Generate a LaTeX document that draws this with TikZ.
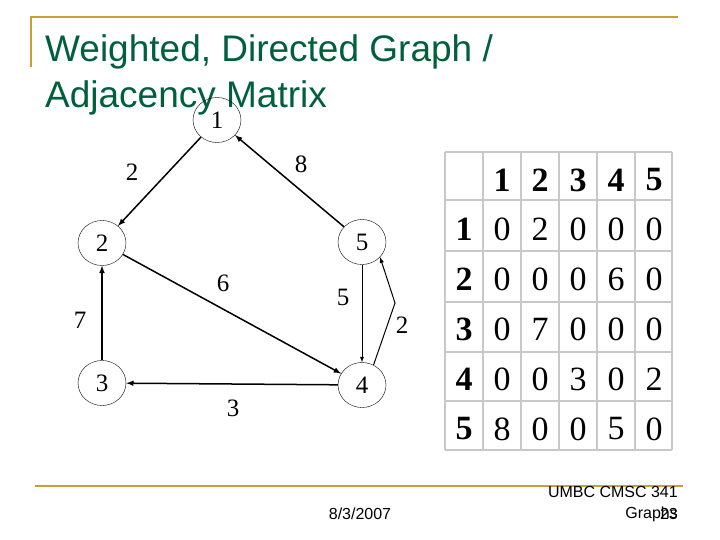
\documentclass[tikz,border=0pt]{standalone}
\usepackage{fontspec}
\setmainfont{Liberation Serif}
\newfontfamily\arialf{Liberation Sans}
\definecolor{gold}{RGB}{200,160,50}
\definecolor{ttl}{RGB}{0,95,60}
\definecolor{gridc}{RGB}{200,200,200}
\begin{document}
\begin{tikzpicture}[x=1pt,y=-1pt,
  vtx/.style={draw,ellipse,minimum width=48,minimum height=45,inner sep=0,font=\fontsize{25}{25}\selectfont},
  wl/.style={font=\fontsize{25}{25}\selectfont},
  edge/.style={-latex,line width=1.5pt},
  cell/.style={font=\fontsize{34}{34}\selectfont},
  hcell/.style={font=\fontsize{34}{34}\selectfont\bfseries}]
\usetikzlibrary{shapes.geometric}
\useasboundingbox (0,0) rectangle (720,540);
\draw[gold,line width=2pt] (30,17) -- (678,17);
\draw[gold,line width=2pt] (31,16) -- (31,67);
\draw[gold,line width=2pt] (35,486) -- (683,486);
\node[anchor=base west,text=ttl,font=\arialf\fontsize{37}{37}\selectfont,inner sep=0] (t1) at (45,62) {Weighted, Directed Graph /};
\node[anchor=base west,text=ttl,font=\arialf\fontsize{37}{37}\selectfont,inner sep=0] (t2) at (45,108) {Adjacency Matrix};
\node[vtx] (n1) at (217,120) {1};
\node[vtx] (n2) at (102,243) {2};
\node[vtx] (n5) at (362,242) {5};
\node[vtx] (n3) at (102,383) {3};
\node[vtx] (n4) at (362,385) {4};
\coordinate (bend) at (395,303);
\draw[edge] (n1) -- (n2);
\draw[edge] (n5) -- (n1);
\draw[edge] (n2) -- (n4);
\draw[edge,line width=0.9pt] (n5) -- (n4);
\draw[edge] (n4) -- (n3);
\draw[edge] (n3) -- (n2);
\draw[-latex,line width=1pt] (n4.60) -- (bend) -- (n5.-40);
\node[wl] (w1) at (132,172) {2};
\node[wl] (w2) at (301,164) {8};
\node[wl] (w3) at (223,283) {6};
\node[wl] (w4) at (343,297) {5};
\node[wl] (w5) at (80,320) {7};
\node[wl] (w6) at (402,325) {2};
\node[wl] (w7) at (233,408) {3};
% matrix grid
\foreach \x in {445,483,521,559,597,635,672} \draw[gridc,line width=1.5pt] (\x,152) -- (\x,450);
\foreach \y in {152,200,251,302,352,401,450} \draw[gridc,line width=1.5pt] (445,\y) -- (672,\y);
\foreach \c [count=\i] in {502,540,578,616,654} {
  \node[hcell] (h\i) at (\c,180) {\i};
}
\foreach \r [count=\i] in {229,279,329,379,429} {
  \node[hcell] (r\i) at (464,\r) {\i};
}
\foreach \row [count=\i] in {{0,2,0,0,0},{0,0,0,6,0},{0,7,0,0,0},{0,0,3,0,2},{8,0,0,5,0}} {
  \foreach \v [count=\j] in \row {
    \pgfmathsetmacro{\xx}{464+38*\j}
    \pgfmathsetmacro{\yy}{179+50*\i}
    \node[cell] (m\i\j) at (\xx,\yy) {\v};
  }
}
\node[font=\arialf\fontsize{16}{16}\selectfont] (date) at (360,514) {8/3/2007};
\node[anchor=east,font=\arialf\fontsize{16}{16}\selectfont,inner sep=0] (f1) at (678,492) {UMBC CMSC 341};
\node[anchor=east,font=\arialf\fontsize{16}{16}\selectfont,inner sep=0] (f2) at (678,514) {Graphs};
\node[anchor=east,font=\arialf\fontsize{16}{16}\selectfont,inner sep=0] (f3) at (678,514) {23};
\end{tikzpicture}
\end{document}
